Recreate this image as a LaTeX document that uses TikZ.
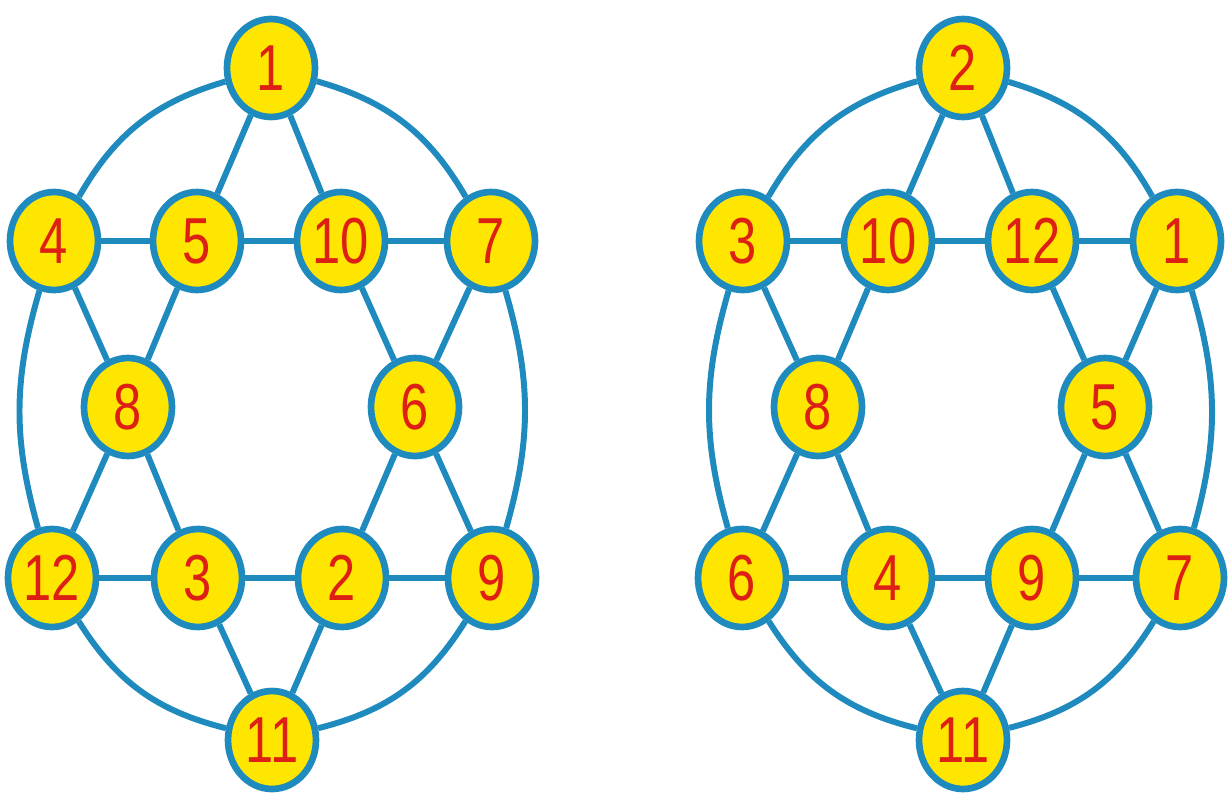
\documentclass[tikz,border=0pt]{standalone}
\usepackage{fontspec}
\usepackage{tikz}
\usetikzlibrary{shapes.geometric}
\newfontfamily\numfont[FakeStretch=0.78]{Liberation Sans}

\definecolor{ringblue}{RGB}{30,138,190}
\definecolor{discyellow}{RGB}{255,230,0}
\definecolor{numred}{RGB}{222,32,20}

\tikzset{
  disc/.style={ellipse, draw=ringblue, line width=3.8pt, fill=discyellow,
    minimum width=1.76cm, minimum height=1.96cm, inner sep=0pt,
    text=numred, font=\numfont\fontsize{37}{37}\selectfont},
  edge/.style={draw=ringblue, line width=3.4pt}
}

\begin{document}
\begin{tikzpicture}[x=0.02cm, y=-0.02cm]
  \useasboundingbox (0,0) rectangle (1229,811);

  % left graph
  \node[disc] (l1) at (271,68) {1};
  \node[disc] (l4) at (54,241) {4};
  \node[disc] (l5) at (197,241) {5};
  \node[disc] (l10) at (341,241) {10};
  \node[disc] (l7) at (491,241) {7};
  \node[disc] (l8) at (128,407) {8};
  \node[disc] (l6) at (415,407) {6};
  \node[disc] (l12) at (52,578) {12};
  \node[disc] (l3) at (198,578) {3};
  \node[disc] (l2) at (342,578) {2};
  \node[disc] (l9) at (492,578) {9};
  \node[disc] (l11) at (272,740) {11};

  \foreach \a/\b in {1/5, 1/10, 4/5, 5/10, 10/7, 4/8, 5/8, 10/6, 7/6,
                     8/12, 8/3, 6/2, 6/9, 12/3, 3/2, 2/9, 3/11, 2/11}
    \draw[edge] (l\a) -- (l\b);
  \draw[edge] (l1) to[bend right=22] (l4);
  \draw[edge] (l4) to[bend right=16] (l12);
  \draw[edge] (l12) to[bend right=22] (l11);
  \draw[edge] (l11) to[bend right=22] (l9);
  \draw[edge] (l9) to[bend right=16] (l7);
  \draw[edge] (l7) to[bend right=22] (l1);

  % right graph
  \node[disc] (r2) at (963,68) {2};
  \node[disc] (r3) at (743,241) {3};
  \node[disc] (r10) at (888,241) {10};
  \node[disc] (r12) at (1032,241) {12};
  \node[disc] (r1) at (1177,241) {1};
  \node[disc] (r8) at (818,407) {8};
  \node[disc] (r5) at (1105,407) {5};
  \node[disc] (r6) at (742,578) {6};
  \node[disc] (r4) at (888,578) {4};
  \node[disc] (r9) at (1032,578) {9};
  \node[disc] (r7) at (1180,578) {7};
  \node[disc] (r11) at (963,740) {11};

  \foreach \a/\b in {2/10, 2/12, 3/10, 10/12, 12/1, 3/8, 10/8, 12/5, 1/5,
                     8/6, 8/4, 5/9, 5/7, 6/4, 4/9, 9/7, 4/11, 9/11}
    \draw[edge] (r\a) -- (r\b);
  \draw[edge] (r2) to[bend right=22] (r3);
  \draw[edge] (r3) to[bend right=16] (r6);
  \draw[edge] (r6) to[bend right=22] (r11);
  \draw[edge] (r11) to[bend right=22] (r7);
  \draw[edge] (r7) to[bend right=16] (r1);
  \draw[edge] (r1) to[bend right=22] (r2);
\end{tikzpicture}
\end{document}
